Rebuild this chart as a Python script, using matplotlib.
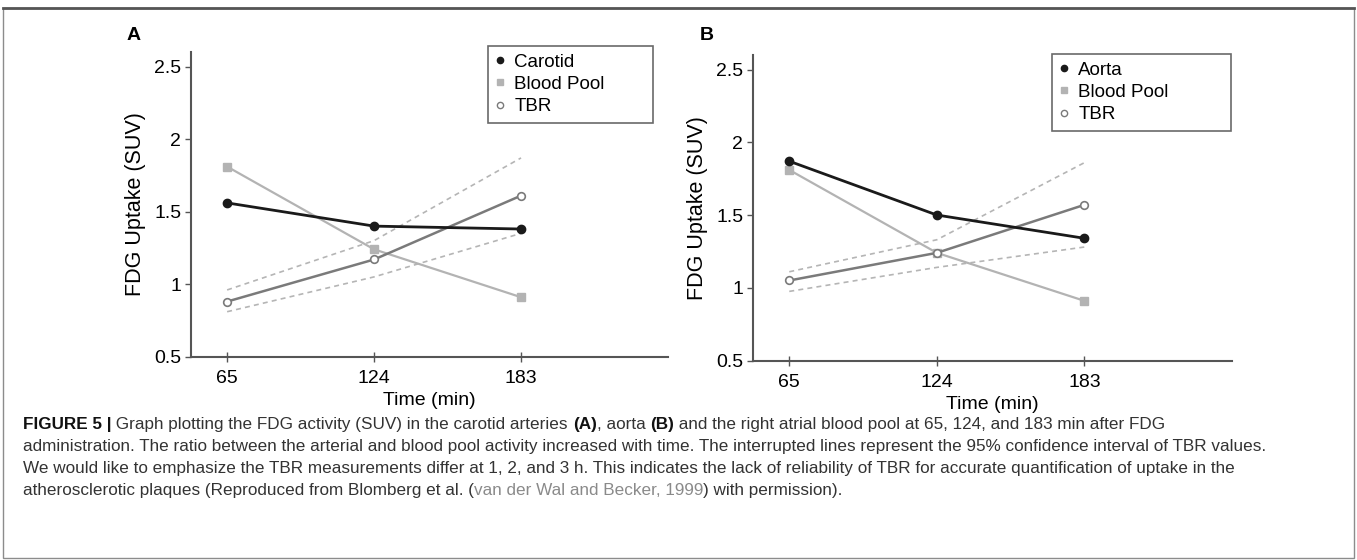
import matplotlib
matplotlib.use("Agg")
import matplotlib.pyplot as plt
from matplotlib.lines import Line2D
from matplotlib.patches import Rectangle

# -----------------------------
# Данные
# -----------------------------
times = [65, 124, 183]
time_labels = ["65", "124", "183"]
y_ticks = [0.5, 1, 1.5, 2, 2.5]
y_tick_labels = ["0.5", "1", "1.5", "2", "2.5"]

carotid = [1.56, 1.40, 1.38]
blood_a = [1.81, 1.24, 0.91]
tbr_a = [0.88, 1.17, 1.61]
ci_hi_a = [0.96, 1.30, 1.87]
ci_lo_a = [0.81, 1.05, 1.35]

aorta = [1.87, 1.50, 1.34]
blood_b = [1.81, 1.24, 0.91]
tbr_b = [1.05, 1.24, 1.57]
ci_hi_b = [1.11, 1.33, 1.86]
ci_lo_b = [0.975, 1.14, 1.28]

caption = [
    [("FIGURE 5 |", "bold"), (" Graph plotting the FDG activity (SUV) in the carotid arteries ", "normal"),
     ("(A)", "bold"), (", aorta ", "normal"), ("(B)", "bold"),
     (" and the right atrial blood pool at 65, 124, and 183 min after FDG", "normal")],
    [("administration. The ratio between the arterial and blood pool activity increased with time. "
      "The interrupted lines represent the 95% confidence interval of TBR values.", "normal")],
    [("We would like to emphasize the TBR measurements differ at 1, 2, and 3 h. This indicates the lack "
      "of reliability of TBR for accurate quantification of uptake in the", "normal")],
    [("atherosclerotic plaques (Reproduced from Blomberg et al. (", "normal"),
     ("van der Wal and Becker, 1999", "link"), (") with permission).", "normal")],
]

plt.rcParams["font.family"] = ["Liberation Sans", "DejaVu Sans"]

DARK = "#1a1a1a"
BLOOD = "#b3b3b3"
TBR = "#7a7a7a"
CI = "#b5b5b5"
AXIS = "#555555"
W, H = 1357, 560


def draw_panel(ax, main, main_name, blood, tbr, hi, lo):
    ax.plot(times, hi, color=CI, lw=1.2, ls=(0, (3, 2.5)), zorder=1)
    ax.plot(times, lo, color=CI, lw=1.2, ls=(0, (3, 2.5)), zorder=1)
    ax.plot(times, blood, color=BLOOD, lw=1.6, marker="s", ms=5.5,
            mfc=BLOOD, mec=BLOOD, zorder=2)
    ax.plot(times, tbr, color=TBR, lw=1.8, marker="o", ms=5.5,
            mfc="white", mec=TBR, mew=1.2, zorder=3)
    ax.plot(times, main, color=DARK, lw=2, marker="o", ms=6,
            mfc=DARK, mec=DARK, zorder=4)

    ax.set_xlim(50.5, 242)
    ax.set_ylim(0.5, 2.6)
    ax.set_xticks(times)
    ax.set_xticklabels(time_labels, fontsize=14)
    ax.set_yticks(y_ticks)
    ax.set_yticklabels(y_tick_labels, fontsize=14)
    ax.tick_params(axis="x", direction="inout", length=7, width=1, color=AXIS, pad=6)
    ax.tick_params(axis="y", direction="out", length=4, width=1, color=AXIS, pad=3)
    for s in ["top", "right"]:
        ax.spines[s].set_visible(False)
    for s in ["left", "bottom"]:
        ax.spines[s].set_color(AXIS)
        ax.spines[s].set_linewidth(1.5)
    ax.set_ylabel("FDG Uptake (SUV)", fontsize=15.5, labelpad=6)
    ax.set_xlabel("Time (min)", fontsize=14, labelpad=4)

    handles = [
        Line2D([], [], ls="none", marker="o", ms=4.5, mfc=DARK, mec=DARK),
        Line2D([], [], ls="none", marker="s", ms=4.5, mfc=BLOOD, mec=BLOOD),
        Line2D([], [], ls="none", marker="o", ms=4.5, mfc="white", mec=TBR),
    ]
    return handles, [main_name, "Blood Pool", "TBR"]


def add_legend(ax, h, l, x0, x1, ytop):
    # рамка легенды растянута до нужной ширины
    leg = ax.legend(h, l, loc="upper left",
                    bbox_to_anchor=(x0 / W, 1 - ytop / H - 0.3, (x1 - x0) / W, 0.3),
                    bbox_transform=fig.transFigure, mode="expand", fontsize=13.5,
                    frameon=True, fancybox=False, handlelength=0.5, handletextpad=0.5,
                    labelspacing=0.28, borderpad=0.4, borderaxespad=0)
    leg.get_frame().set_edgecolor("#444444")
    leg.get_frame().set_linewidth(1.2)


fig = plt.figure(figsize=(W / 100, H / 100), dpi=100)

ax_a = fig.add_axes([191 / W, 1 - 356.7 / H, 477 / W, 304.7 / H])
ax_b = fig.add_axes([753 / W, 1 - 360.5 / H, 479 / W, 305.5 / H])

h, l = draw_panel(ax_a, carotid, "Carotid", blood_a, tbr_a, ci_hi_a, ci_lo_a)
add_legend(ax_a, h, l, 488, 653, 46)

h, l = draw_panel(ax_b, aorta, "Aorta", blood_b, tbr_b, ci_hi_b, ci_lo_b)
add_legend(ax_b, h, l, 1052, 1231, 54)

fig.text(127 / W, 1 - 36 / H, "A", fontsize=14, fontweight="bold", va="center")
fig.text(700 / W, 1 - 36 / H, "B", fontsize=14, fontweight="bold", va="center")

# -----------------------------
# Подпись к рисунку (по частям, общая базовая линия)
# -----------------------------
renderer = fig.canvas.get_renderer()
line_y = [429, 451, 473, 495]
for parts, yy in zip(caption, line_y):
    x = 23
    for txt, style in parts:
        kw = dict(fontsize=12.3, color="#333333")
        if style == "bold":
            kw.update(fontweight="bold", color="#111111")
        elif style == "link":
            kw.update(color="#8a8a8a")
        t = fig.text(x / W, 1 - yy / H, txt, ha="left", va="baseline", **kw)
        x += t.get_window_extent(renderer).width

# Рамка вокруг рисунка
fig.add_artist(Rectangle((3 / W, 2 / H), 1351 / W, 550 / H,
                         transform=fig.transFigure, fill=False,
                         edgecolor="#8c8c8c", lw=1))
fig.add_artist(Line2D([3 / W, 1354 / W], [1 - 8 / H, 1 - 8 / H],
                      transform=fig.transFigure, color="#555555", lw=2))

plt.savefig("out.png", dpi=100)
plt.close()
